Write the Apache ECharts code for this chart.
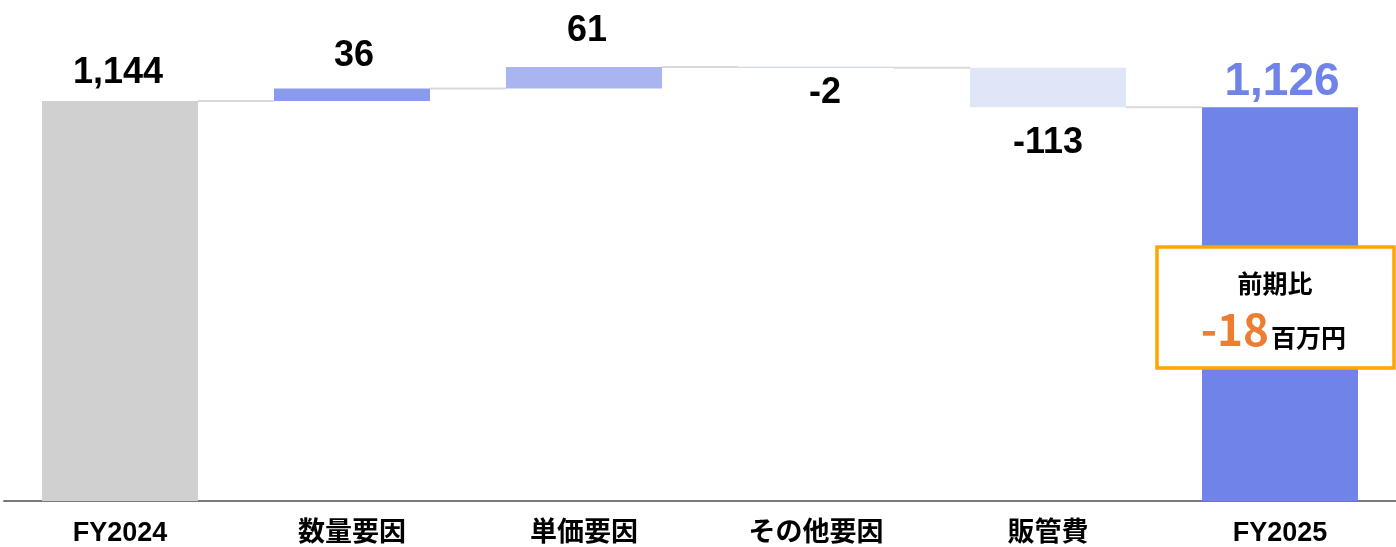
<!DOCTYPE html>
<html>
<head>
<meta charset="utf-8">
<script src="https://cdn.jsdelivr.net/npm/echarts@6/dist/echarts.min.js"></script>
<style>
html,body{margin:0;padding:0;background:#fff;}
#chart{width:1396px;height:547px;}
</style>
</head>
<body>
<div id="chart"></div>
<script>
// ---- data ----
const categories = ['FY2024', '数量要因', '単価要因', 'その他要因', '販管費', 'FY2025'];
const changes = [1144, 36, 61, -2, -113, 1126];
const isTotal = [true, false, false, false, false, true];
const noteTitle = '前期比';
const noteValue = '-18';
const noteUnit = '百万円';

// ---- styles ----
const barColors = ['#d0d0d0', '#8b9beb', '#a9b5f1', '#c5cbf3', '#e0e5f8', '#6f83e8'];
const labelGaps = [10, 14, 18, 7, 18, 2];
const labelShiftX = [-2, 2, 3, 9, 0, 2];

// ---- waterfall computation ----
let running = 0;
const base = [], vis = [], ends = [];
changes.forEach((v, i) => {
  if (isTotal[i]) { base.push(0); vis.push(v); running = v; }
  else { const s = running, e = running + v; base.push(Math.min(s, e)); vis.push(Math.abs(v)); running = e; }
  ends.push(running);
});
const connectors = ends.slice(0, ends.length - 1).map((lvl, i) => [i, lvl]);

const BAR_W = 156;
const numFont = '"Liberation Sans", Arial, sans-serif';
const jpFont = '"Liberation Sans", "Noto Sans CJK JP", sans-serif';

const visData = vis.map((v, i) => {
  const neg = !isTotal[i] && changes[i] < 0;
  const last = i === categories.length - 1;
  return {
    value: v,
    itemStyle: { color: barColors[i] },
    label: {
      show: true,
      position: neg ? 'bottom' : 'top',
      distance: labelGaps[i],
      offset: [labelShiftX[i], 0],
      color: last ? '#6f83e8' : '#000',
      fontSize: last ? 46 : 36,
      fontWeight: 'bold',
      fontFamily: numFont,
      formatter: () => changes[i].toLocaleString('en-US')
    }
  };
});

const chart = echarts.init(document.getElementById('chart'));
chart.setOption({
  animation: false,
  grid: { left: 4, width: 1396, top: 1, bottom: 46 },
  xAxis: {
    type: 'category',
    data: categories,
    axisTick: { show: false },
    axisLine: { lineStyle: { color: '#7a7a7a', width: 2 } },
    axisLabel: {
      color: '#000', fontSize: 27, fontWeight: 'bold', fontFamily: jpFont, margin: 19
    }
  },
  yAxis: { type: 'value', min: 0, max: 1430, show: false, splitLine: { show: false } },
  series: [
    {
      type: 'bar', stack: 'w', barWidth: BAR_W, silent: true,
      itemStyle: { color: 'transparent' }, data: base
    },
    {
      type: 'bar', stack: 'w', barWidth: BAR_W, barMinHeight: 1, data: visData
    },
    {
      type: 'custom',
      data: connectors,
      encode: { x: 0, y: 1 },
      z: 1,
      renderItem: function (params, api) {
        const i = api.value(0), lvl = api.value(1);
        const p = api.coord([i, lvl]);
        const bw = api.size([1, 0])[0];
        const half = BAR_W / 2;
        return {
          type: 'line',
          shape: { x1: p[0] + half, y1: p[1], x2: p[0] + bw - half, y2: p[1] },
          style: { stroke: '#d9d9d9', lineWidth: 2 }
        };
      }
    }
  ],
  graphic: [
    {
      type: 'rect', z: 100,
      shape: { x: 1157, y: 247, width: 237, height: 121 },
      style: { fill: '#fff', stroke: '#FFA500', lineWidth: 3.5 }
    },
    {
      type: 'text', z: 101, x: 1275, y: 283,
      style: { text: noteTitle, fill: '#000', font: 'bold 25px "Noto Sans CJK JP"', textAlign: 'center', textVerticalAlign: 'middle' }
    },
    {
      type: 'text', z: 101, x: 1269, y: 351,
      style: { text: noteValue, fill: '#ED7D31', font: 'bold 44px "Noto Sans CJK JP"', textAlign: 'right', textVerticalAlign: 'bottom' }
    },
    {
      type: 'text', z: 101, x: 1271, y: 350,
      style: { text: noteUnit, fill: '#000', font: 'bold 25px "Noto Sans CJK JP"', textAlign: 'left', textVerticalAlign: 'bottom' }
    }
  ]
});
</script>
</body>
</html>
